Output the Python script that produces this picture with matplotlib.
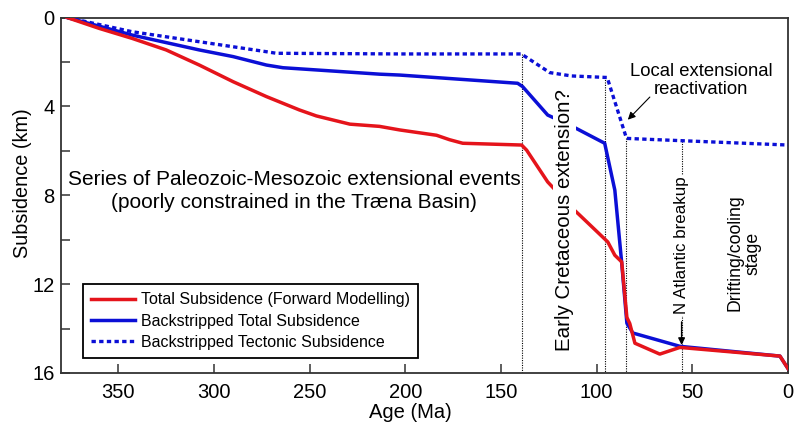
import matplotlib.pyplot as plt

plt.rcParams['font.family'] = ['Liberation Sans', 'DejaVu Sans']

# Total subsidence (forward modelling)
fwd_age = [376.8, 360, 342.8, 325, 307.7, 290, 272.6, 255.4, 246.5, 229, 213.5, 203,
           183.7, 176.9, 170, 139.2, 136.6, 125.6, 112.5, 108.8, 94.2, 90.5, 86.9,
           84.2, 82.7, 80, 67, 56.5, 4.2, 0]
fwd_depth = [0, 0.49, 0.94, 1.46, 2.14, 2.89, 3.56, 4.16, 4.43, 4.8, 4.9, 5.06,
             5.3, 5.5, 5.66, 5.74, 5.97, 7.4, 8.6, 8.9, 10.1, 10.7, 11.0,
             13.5, 13.77, 14.66, 15.15, 14.85, 15.24, 15.8]

# Backstripped total subsidence
bst_age = [376.8, 342.8, 307.7, 290, 272.6, 264, 246.5, 213.5, 203, 141.3, 138.7,
           125.6, 112.5, 95.8, 90.5, 86.9, 84.2, 81.1, 56.5, 4.2, 0]
bst_depth = [0, 0.79, 1.46, 1.76, 2.14, 2.26, 2.36, 2.55, 2.59, 2.96, 3.11,
             4.39, 4.91, 5.66, 7.77, 11.05, 13.76, 14.2, 14.8, 15.24, 15.8]

# Backstripped tectonic subsidence
tec_age = [376.8, 342.8, 307.7, 272.6, 267.4, 203, 139.4, 124.5, 113.2, 94.5,
           84.4, 73.9, 0]
tec_depth = [0, 0.64, 1.09, 1.54, 1.61, 1.64, 1.64, 2.48, 2.63, 2.7,
             5.44, 5.48, 5.74]

# event markers (age, top of dotted line)
event_age = [139.2, 95.4, 84.8, 55.6]
event_top = [1.64, 2.69, 5.44, 5.55]

red = '#e5141b'
blue = '#0b0fd6'

fig = plt.figure(figsize=(7.94, 4.25), dpi=100)
ax = fig.add_axes([0.0768, 0.1224, 0.9156, 0.8364])

for a, top in zip(event_age, event_top):
    ax.plot([a, a], [top, 16], color='black', lw=0.8, ls=(0, (1, 1.2)), zorder=1)

ax.plot(tec_age, tec_depth, color=blue, lw=2.4, ls=(0, (1.3, 1.0)),
        dash_capstyle='butt', label='Backstripped Tectonic Subsidence', zorder=3)
ax.plot(bst_age, bst_depth, color=blue, lw=2.5,
        label='Backstripped Total Subsidence', zorder=3)
ax.plot(fwd_age, fwd_depth, color=red, lw=2.5,
        label='Total Subsidence (Forward Modelling)', zorder=4)

ax.set_xlim(380, 0)
ax.set_ylim(16, 0)
ax.set_xticks(range(0, 351, 50))
ax.set_yticks(range(0, 17, 2))
ax.set_yticklabels([str(v) if v % 4 == 0 else '' for v in range(0, 17, 2)])
ax.tick_params(direction='in', length=6.5, width=1.1, color='#333333',
               labelsize=14.5)
ax.tick_params(axis='x', pad=7)
ax.tick_params(axis='y', pad=4.5)
for s in ax.spines.values():
    s.set_color('#333333')
    s.set_linewidth(1.3)

ax.set_xlabel('Age (Ma)', fontsize=14.5)
ax.set_ylabel('Subsidence (km)', fontsize=14.3)
ax.xaxis.set_label_coords(0.48, -0.085)
ax.yaxis.set_label_coords(-0.04, 0.534)

ax.text(258, 7.8, 'Series of Paleozoic-Mesozoic extensional events\n'
        '(poorly constrained in the Træna Basin)',
        ha='center', va='center', fontsize=15, linespacing=1.25, zorder=5)

ax.text(116.7, 9.1, 'Early Cretaceous extension?', rotation=90,
        ha='center', va='center', fontsize=14.8, zorder=5,
        bbox=dict(facecolor='white', edgecolor='none', pad=1.5))

ax.text(45.3, 2.84, 'Local extensional\nreactivation', ha='center', va='center',
        fontsize=13.3, linespacing=1.1, zorder=5)
ax.annotate('', xy=(83.7, 4.6), xytext=(72.2, 3.58),
            arrowprops=dict(arrowstyle='-|>', color='black', lw=0.8,
                            mutation_scale=11, shrinkA=0, shrinkB=0), zorder=5)

ax.text(55.6, 10.26, 'N Atlantic breakup', rotation=90,
        ha='center', va='center', fontsize=12.2, zorder=5,
        bbox=dict(facecolor='white', edgecolor='none', pad=1.5))
ax.annotate('', xy=(55.6, 14.74), xytext=(55.6, 13.7),
            arrowprops=dict(arrowstyle='-|>', color='black', lw=1.0,
                            mutation_scale=10, shrinkA=0, shrinkB=0), zorder=6)

ax.text(23, 10.6, 'Drifting/cooling\nstage', rotation=90,
        ha='center', va='center', fontsize=12.7, linespacing=1.1, zorder=5)

handles, labels = ax.get_legend_handles_labels()
order = [2, 1, 0]
leg = ax.legend([handles[i] for i in order], [labels[i] for i in order],
                loc='lower left', bbox_to_anchor=(0.03, 0.042), borderaxespad=0,
                fontsize=11.5, handlelength=2.8, handletextpad=0.35,
                labelspacing=0.4, borderpad=0.5, fancybox=False,
                edgecolor='black', framealpha=1)
leg.get_frame().set_linewidth(1.3)
leg.set_zorder(7)

fig.savefig('out.png', dpi=100)
